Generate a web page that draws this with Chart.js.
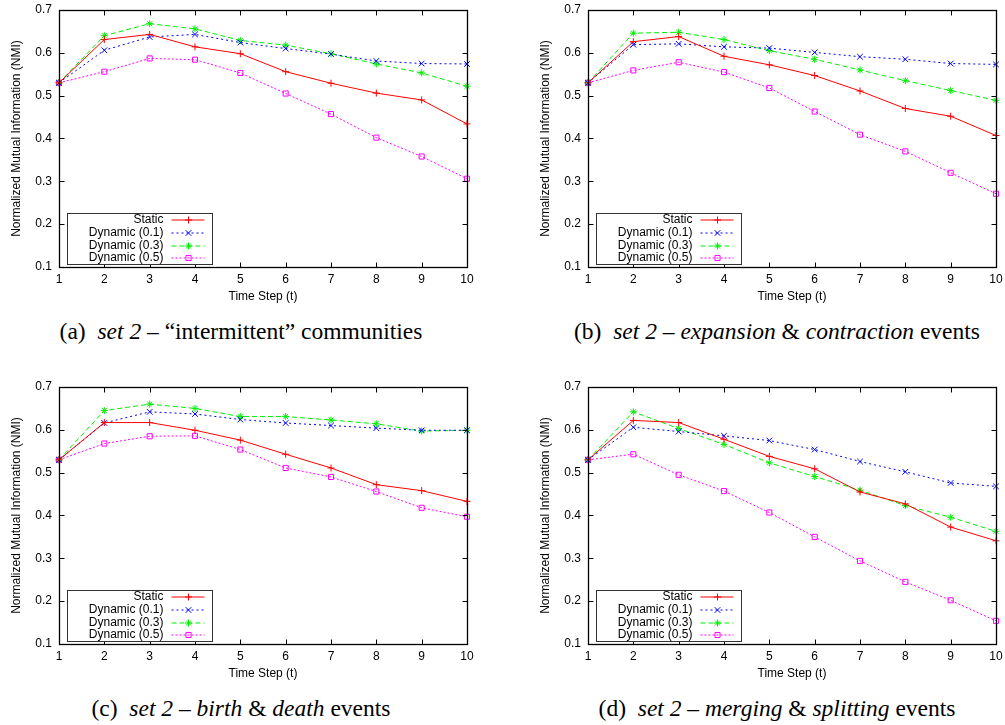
<!DOCTYPE html>
<html>
<head>
<meta charset="utf-8">
<script src="https://cdn.jsdelivr.net/npm/chart.js@4/dist/chart.umd.min.js"></script>
<style>
  body { margin: 0; background: #fff; }
  #page { position: relative; width: 1005px; height: 725px; overflow: hidden; }
  canvas { position: absolute; }
  .cap { position: absolute; width: 500px; text-align: center; font-family: "Liberation Serif", "DejaVu Serif", serif;
         font-size: 23.5px; line-height: 26px; color: #000; white-space: nowrap; }
  .cap i { font-style: italic; }
</style>
</head>
<body>
<div id="page">
  <canvas id="chartA" width="480" height="306" style="left:0px;top:0px"></canvas>
  <canvas id="chartB" width="476" height="306" style="left:529px;top:0px"></canvas>
  <canvas id="chartC" width="480" height="306" style="left:0px;top:377px"></canvas>
  <canvas id="chartD" width="476" height="306" style="left:529px;top:377px"></canvas>
  <div class="cap" style="left:-9px;top:318px">(a)&nbsp; <i>set 2 –</i> “intermittent” communities</div>
  <div class="cap" style="left:527px;top:318px">(b)&nbsp; <i>set 2 – expansion</i> &amp; <i>contraction</i> events</div>
  <div class="cap" style="left:-9px;top:695px">(c)&nbsp; <i>set 2 – birth</i> &amp; <i>death</i> events</div>
  <div class="cap" style="left:527px;top:695px">(d)&nbsp; <i>set 2 – merging</i> &amp; <i>splitting</i> events</div>
</div>
<script>
// x categories and y ticks
const timeSteps = ["1", "2", "3", "4", "5", "6", "7", "8", "9", "10"];
const yMin = 0.1, yMax = 0.7, yStep = 0.1;
const seriesNames = ["Static", "Dynamic (0.1)", "Dynamic (0.3)", "Dynamic (0.5)"];

// (a) intermittent communities
const staticA = [0.530, 0.631, 0.643, 0.614, 0.598, 0.556, 0.529, 0.506, 0.490, 0.434];
const dyn1A   = [0.530, 0.606, 0.637, 0.643, 0.624, 0.610, 0.597, 0.581, 0.575, 0.574];
const dyn3A   = [0.530, 0.640, 0.668, 0.656, 0.629, 0.618, 0.598, 0.574, 0.553, 0.522];
const dyn5A   = [0.530, 0.556, 0.587, 0.584, 0.553, 0.505, 0.457, 0.402, 0.358, 0.306];

// (b) expansion & contraction
const staticB = [0.530, 0.626, 0.638, 0.592, 0.572, 0.547, 0.511, 0.470, 0.452, 0.407];
const dyn1B   = [0.530, 0.619, 0.621, 0.614, 0.611, 0.601, 0.591, 0.585, 0.575, 0.573];
const dyn3B   = [0.530, 0.646, 0.648, 0.631, 0.605, 0.585, 0.560, 0.535, 0.512, 0.489];
const dyn5B   = [0.530, 0.559, 0.578, 0.555, 0.518, 0.463, 0.409, 0.370, 0.320, 0.271];

// (c) birth & death
const staticC = [0.530, 0.617, 0.617, 0.599, 0.576, 0.543, 0.511, 0.472, 0.458, 0.433];
const dyn1C   = [0.530, 0.616, 0.642, 0.637, 0.624, 0.616, 0.610, 0.604, 0.599, 0.599];
const dyn3C   = [0.530, 0.645, 0.660, 0.650, 0.631, 0.631, 0.623, 0.614, 0.597, 0.599];
const dyn5C   = [0.530, 0.568, 0.585, 0.586, 0.554, 0.511, 0.490, 0.456, 0.418, 0.397];

// (d) merging & splitting
const staticD = [0.530, 0.622, 0.617, 0.578, 0.538, 0.509, 0.455, 0.427, 0.373, 0.341];
const dyn1D   = [0.530, 0.606, 0.596, 0.586, 0.575, 0.554, 0.526, 0.502, 0.476, 0.468];
const dyn3D   = [0.530, 0.642, 0.603, 0.566, 0.523, 0.491, 0.459, 0.423, 0.396, 0.363];
const dyn5D   = [0.530, 0.543, 0.495, 0.457, 0.407, 0.350, 0.294, 0.245, 0.202, 0.154];

const SANS = '"Liberation Sans", Arial, sans-serif';

// gnuplot-ish line/point styles per series
const styles = [
  { color: "#ff0000", dash: [],     point: "cross",    radius: 3.5, bg: "#ff0000" },
  { color: "#0000ff", dash: [2, 3], point: "crossRot", radius: 4,   bg: "#0000ff" },
  { color: "#00ee00", dash: [5, 3], point: "star",     radius: 3.5, bg: "#00ee00" },
  { color: "#ff00ff", dash: [2, 2], point: "rect",     radius: 3.6, bg: "rgba(0,0,0,0)" }
];

// box with inward ticks on every side + key in lower left
const gnuplotFrame = {
  id: "gnuplotFrame",
  afterDraw(chart) {
    const { ctx, chartArea: a, scales: { x, y } } = chart;
    const L = Math.round(a.left) + 0.5, R = Math.round(a.right) + 0.5;
    const T = Math.round(a.top) + 0.5, B = Math.round(a.bottom) + 0.5;
    ctx.save();
    ctx.strokeStyle = "#000";
    ctx.lineWidth = 1;
    ctx.setLineDash([]);
    ctx.beginPath();
    x.ticks.forEach((t, i) => {
      const px = Math.round(x.getPixelForTick(i)) + 0.5;
      ctx.moveTo(px, B); ctx.lineTo(px, B - 5);
      ctx.moveTo(px, T); ctx.lineTo(px, T + 5);
    });
    y.ticks.forEach((t, i) => {
      const py = Math.round(y.getPixelForTick(i)) + 0.5;
      ctx.moveTo(L, py); ctx.lineTo(L + 5, py);
      ctx.moveTo(R, py); ctx.lineTo(R - 5, py);
    });
    ctx.stroke();
    ctx.lineWidth = 1.3;
    ctx.strokeRect(L, T, R - L, B - T);

    // key
    const kx = L + 8, ky = B - 54, kw = 145, kh = 51;
    ctx.fillStyle = "#fff";
    ctx.fillRect(kx, ky, kw, kh);
    ctx.lineWidth = 1;
    ctx.strokeStyle = "#333";
    ctx.strokeRect(kx, ky, kw, kh);
    ctx.font = "12px " + SANS;
    ctx.textAlign = "right";
    ctx.textBaseline = "middle";
    const rows = [6, 19, 32, 44];
    chart.data.datasets.forEach((ds, i) => {
      const st = styles[i];
      const ry = ky + rows[i] + 0.5;
      ctx.fillStyle = "#000";
      ctx.fillText(ds.label, kx + 96, ry);
      ctx.strokeStyle = st.color;
      ctx.setLineDash(st.dash);
      ctx.beginPath();
      ctx.moveTo(kx + 104, ry); ctx.lineTo(kx + 137, ry);
      ctx.stroke();
      ctx.setLineDash([]);
      ctx.fillStyle = st.bg;
      Chart.helpers.drawPoint(ctx, { pointStyle: st.point, radius: st.radius, borderWidth: 1, rotation: 0 }, kx + 121, ry);
    });
    ctx.restore();
  }
};

function makeChart(id, values) {
  const canvas = document.getElementById(id);
  const rightPad = canvas.width - 467;
  return new Chart(canvas, {
    type: "line",
    data: {
      labels: timeSteps,
      datasets: values.map((v, i) => ({
        label: seriesNames[i],
        data: v,
        borderColor: styles[i].color,
        borderWidth: 1,
        borderDash: styles[i].dash,
        pointStyle: styles[i].point,
        pointRadius: styles[i].radius,
        pointBorderWidth: 1,
        pointBorderColor: styles[i].color,
        pointBackgroundColor: styles[i].bg,
        tension: 0,
        fill: false
      }))
    },
    options: {
      responsive: false,
      animation: false,
      events: [],
      layout: { padding: { top: 10, right: rightPad, left: 0, bottom: 0 } },
      plugins: { legend: { display: false }, tooltip: { enabled: false } },
      scales: {
        x: {
          offset: false,
          grid: { display: false, drawTicks: false },
          border: { display: false },
          ticks: { color: "#000", font: { family: SANS, size: 12 }, padding: 5, autoSkip: false, maxRotation: 0 },
          title: { display: true, text: "Time Step (t)", color: "#000", font: { family: SANS, size: 12 }, padding: { top: 0, bottom: 2 } },
          afterFit(scale) { scale.height = 39; scale.paddingLeft = 0; scale.paddingRight = 0; }
        },
        y: {
          min: yMin, max: yMax,
          grid: { display: false, drawTicks: false },
          border: { display: false },
          ticks: { stepSize: yStep, color: "#000", font: { family: SANS, size: 12 }, padding: 7,
                   callback: v => Number(v).toFixed(1) },
          title: { display: true, text: "Normalized Mutual Information (NMI)", color: "#000", font: { family: SANS, size: 12 }, padding: { top: 9, bottom: 0 } },
          afterFit(scale) { scale.width = 59; scale.paddingTop = 0; scale.paddingBottom = 0; }
        }
      }
    },
    plugins: [gnuplotFrame]
  });
}

makeChart("chartA", [staticA, dyn1A, dyn3A, dyn5A]);
makeChart("chartB", [staticB, dyn1B, dyn3B, dyn5B]);
makeChart("chartC", [staticC, dyn1C, dyn3C, dyn5C]);
makeChart("chartD", [staticD, dyn1D, dyn3D, dyn5D]);
</script>
</body>
</html>
